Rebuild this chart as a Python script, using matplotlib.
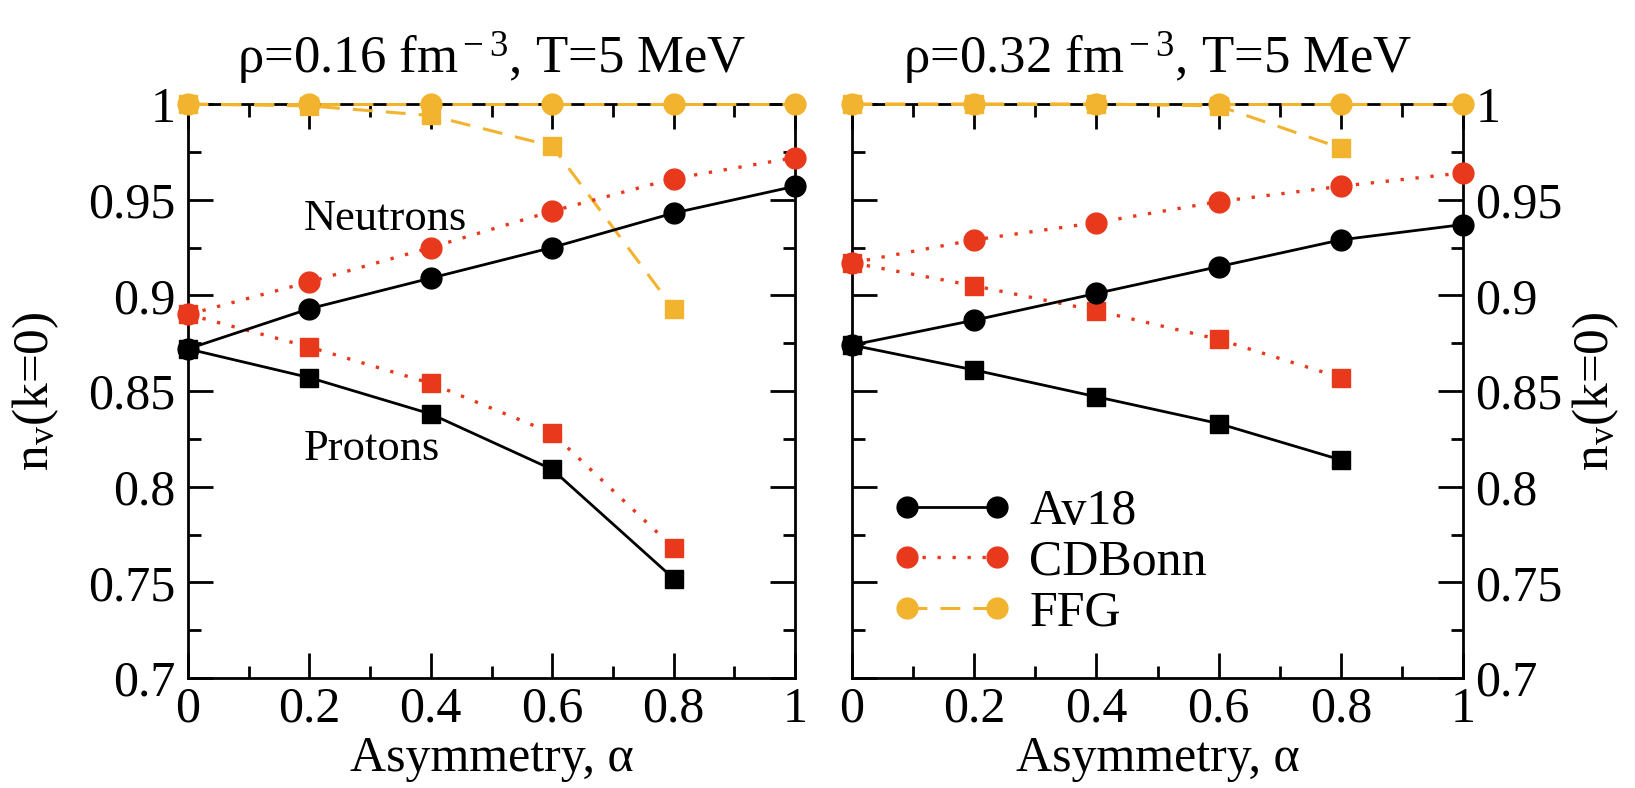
import matplotlib.pyplot as plt
from matplotlib.lines import Line2D

plt.rcParams['font.family'] = ['Liberation Serif', 'DejaVu Serif']
plt.rcParams['mathtext.fontset'] = 'custom'
plt.rcParams['mathtext.rm'] = 'Liberation Serif'
plt.rcParams['mathtext.it'] = 'Liberation Serif:italic'

# asymmetry values
alpha_n = [0.0, 0.2, 0.4, 0.6, 0.8, 1.0]
alpha_p = [0.0, 0.2, 0.4, 0.6, 0.8]

# rho = 0.16 fm^-3
av18_n_016 = [0.872, 0.893, 0.909, 0.925, 0.943, 0.957]
av18_p_016 = [0.872, 0.857, 0.838, 0.809, 0.752]
cdb_n_016 = [0.890, 0.907, 0.925, 0.944, 0.961, 0.972]
cdb_p_016 = [0.890, 0.873, 0.854, 0.828, 0.768]
ffg_n_016 = [1.0, 1.0, 1.0, 1.0, 1.0, 1.0]
ffg_p_016 = [1.0, 0.999, 0.994, 0.978, 0.893]

# rho = 0.32 fm^-3
av18_n_032 = [0.874, 0.887, 0.901, 0.915, 0.929, 0.937]
av18_p_032 = [0.874, 0.861, 0.847, 0.833, 0.814]
cdb_n_032 = [0.917, 0.929, 0.938, 0.949, 0.957, 0.964]
cdb_p_032 = [0.917, 0.905, 0.892, 0.877, 0.857]
ffg_n_032 = [1.0, 1.0, 1.0, 1.0, 1.0, 1.0]
ffg_p_032 = [1.0, 1.0, 1.0, 0.999, 0.977]

titles = [r'ρ=0.16 fm$^{\rm -3}$, T=5 MeV', r'ρ=0.32 fm$^{\rm -3}$, T=5 MeV']
yticks = [0.7, 0.75, 0.8, 0.85, 0.9, 0.95, 1.0]
ylabels = ['0.7', '0.75', '0.8', '0.85', '0.9', '0.95', '1']
xticks = [0, 0.2, 0.4, 0.6, 0.8, 1.0]
xlabels = ['0', '0.2', '0.4', '0.6', '0.8', '1']

RED = '#e8391d'
YEL = '#f2b32e'
FS = 36
DOT = (0, (1, 3.5))
DASH = (0, (6.5, 4.3))

fig = plt.figure(figsize=(16.35, 7.88), dpi=100)
ax1 = fig.add_axes([188/1635, 1-678/788, 607/1635, 574/788])
ax2 = fig.add_axes([852/1635, 1-678/788, 611/1635, 574/788])

data = [
    (ax1, av18_n_016, av18_p_016, cdb_n_016, cdb_p_016, ffg_n_016, ffg_p_016),
    (ax2, av18_n_032, av18_p_032, cdb_n_032, cdb_p_032, ffg_n_032, ffg_p_032),
]

for i, (ax, an, ap, cn, cp, fn, fp) in enumerate(data):
    kw = dict(clip_on=False)
    ax.plot(alpha_n, fn, ls=DASH, color=YEL, lw=2.2, marker='o', ms=15, zorder=3, **kw)
    ax.plot(alpha_p, fp, ls=DASH, color=YEL, lw=2.2, marker='s', ms=13, zorder=3, **kw)
    ax.plot(alpha_n, cn, ls=DOT, color=RED, lw=2.4, marker='o', ms=15, zorder=4, **kw)
    ax.plot(alpha_p, cp, ls=DOT, color=RED, lw=2.4, marker='s', ms=13, zorder=4, **kw)
    ax.plot(alpha_n, an, ls='-', color='black', lw=2.0, marker='o', ms=15, zorder=5, **kw)
    ax.plot(alpha_p, ap, ls='-', color='black', lw=2.0, marker='s', ms=13, zorder=5, **kw)

    ax.set_xlim(0, 1)
    ax.set_ylim(0.7, 1.0)
    ax.set_xticks(xticks, xlabels)
    ax.set_yticks(yticks, ylabels)
    ax.set_xticks([0.1, 0.3, 0.5, 0.7, 0.9], minor=True)
    ax.set_yticks([0.725, 0.775, 0.825, 0.875, 0.925, 0.975], minor=True)
    ax.tick_params(which='both', direction='in', top=True, right=True, width=2, labelsize=FS)
    ax.tick_params(which='major', length=18)
    ax.tick_params(which='minor', length=9)
    ax.tick_params(axis='y', which='major', pad=9)
    ax.tick_params(axis='x', which='major', pad=6)
    for s in ax.spines.values():
        s.set_linewidth(2)
    ax.set_xlabel('Asymmetry, α', fontsize=FS, labelpad=2)
    ax.set_title(titles[i], fontsize=38, pad=22)

ax1.set_ylabel(r'n$_{\rm v}$(k=0)', fontsize=37)
ax1.yaxis.set_label_coords(-0.21, 0.5)

ax2.yaxis.tick_right()
ax2.tick_params(which='both', left=True, labelleft=False, labelright=True)
ax2.yaxis.set_label_position('right')
ax2.set_ylabel(r'n$_{\rm v}$(k=0)', fontsize=37, rotation=90)
ax2.yaxis.set_label_coords(1.175, 0.5)

ax1.text(0.19, 0.934, 'Neutrons', fontsize=32)
ax1.text(0.19, 0.814, 'Protons', fontsize=32)

handles = [
    Line2D([], [], color='black', ls='-', lw=2.0, marker='o', ms=15),
    Line2D([], [], color=RED, ls=DOT, lw=2.4, marker='o', ms=15),
    Line2D([], [], color=YEL, ls=DASH, lw=2.2, marker='o', ms=15),
]
ax2.legend(handles, ['Av18', 'CDBonn', 'FFG'], loc='upper left', bbox_to_anchor=(0.065, 0.33),
           frameon=False, numpoints=2, fontsize=FS, handlelength=2.4, handletextpad=0.35,
           labelspacing=0.08, borderpad=0, borderaxespad=0)

fig.savefig('out.png', dpi=100)
